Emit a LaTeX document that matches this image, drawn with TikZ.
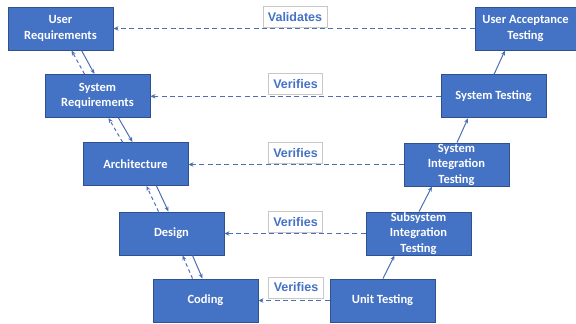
\documentclass[tikz,border=0pt]{standalone}
\usepackage{fontspec}
\setmainfont{Carlito}[BoldFont={Carlito Bold}]
\newfontfamily\labelfont{Liberation Sans}
\usetikzlibrary{arrows.meta}
\definecolor{boxblue}{HTML}{4472C4}
\definecolor{boxedge}{HTML}{2F528F}
\definecolor{linkblue}{HTML}{4A6FB5}
\definecolor{tagedge}{HTML}{C8C8C8}
\begin{document}
\begin{tikzpicture}[x=1pt,y=-1pt,
  phase/.style={draw=boxedge, line width=0.9pt, fill=boxblue, text=white,
    font=\bfseries\fontsize{12.5}{15.5}\selectfont, align=center,
    minimum width=105pt, minimum height=43pt, inner sep=0pt},
  tag/.style={draw=tagedge, line width=0.7pt, fill=white, text=boxblue,
    font=\labelfont\fontsize{12.5}{14}\selectfont\bfseries,
    minimum height=21pt, inner xsep=5pt, inner ysep=0pt},
  link/.style={draw=linkblue, line width=1.2pt, dash pattern=on 5pt off 3.3pt,
    -{Stealth[length=5pt,width=4.5pt]}},
  flow/.style={draw=linkblue, line width=1pt, -{Stealth[length=5pt,width=4pt]}},
  back/.style={draw=linkblue, line width=1pt, dash pattern=on 3.5pt off 3pt,
    -{Stealth[length=5pt,width=4pt]}}]
\useasboundingbox (0,0) rectangle (576,324);

\node[phase] (ur)   at (60.5,28.5)  {User\\Requirements};
\node[phase] (sr)   at (97.5,96)    {System\\Requirements};
\node[phase] (arch) at (135.5,164)  {Architecture};
\node[phase] (des)  at (171.5,233.5){Design};
\node[phase] (cod)  at (205.5,300.5){Coding};
\node[phase] (unit) at (382.5,300.5){Unit Testing};
\node[phase] (sub)  at (418.5,233.5){Subsystem\\Integration\\Testing};
\node[phase] (sit)  at (456.5,164.5){System\\Integration\\Testing};
\node[phase] (st)   at (493.5,96.3) {System Testing};
\node[phase, minimum width=101pt] (uat) at (525.5,28.5) {User Acceptance\\Testing};

\node[tag] (t1) at (295,17)    {Validates};
\node[tag] (t2) at (295.5,84)  {Verifies};
\node[tag] (t3) at (295.5,153) {Verifies};
\node[tag] (t4) at (295.5,222) {Verifies};
\node[tag] (t5) at (296,287.5) {Verifies};

\draw[link] (uat.west) -- (ur.east);
\draw[link] (st.west) -- (sr.east |- st.west);
\draw[link] (sit.west) -- (arch.east |- sit.west);
\draw[link] (sub.west) -- (des.east);
\draw[link] (unit.west) -- (cod.east);

\foreach \a/\b in {ur/sr, sr/arch, arch/des, des/cod}{
  \draw[flow] ([xshift=21pt]\a.south) -- ([xshift=-3pt]\b.north);
  \draw[back] ([xshift=-13pt]\b.north) -- ([xshift=11pt]\a.south);
}

\draw[flow] ([xshift=0.5pt]unit.north) -- ([xshift=-24pt]sub.south);
\draw[flow] ([xshift=0.5pt]sub.north) -- ([xshift=-24.5pt]sit.south);
\draw[flow] ([xshift=0.5pt]sit.north) -- ([xshift=-25.5pt]st.south);
\draw[flow] ([xshift=0.5pt]st.north) -- ([xshift=-20.5pt]uat.south);
\end{tikzpicture}
\end{document}
